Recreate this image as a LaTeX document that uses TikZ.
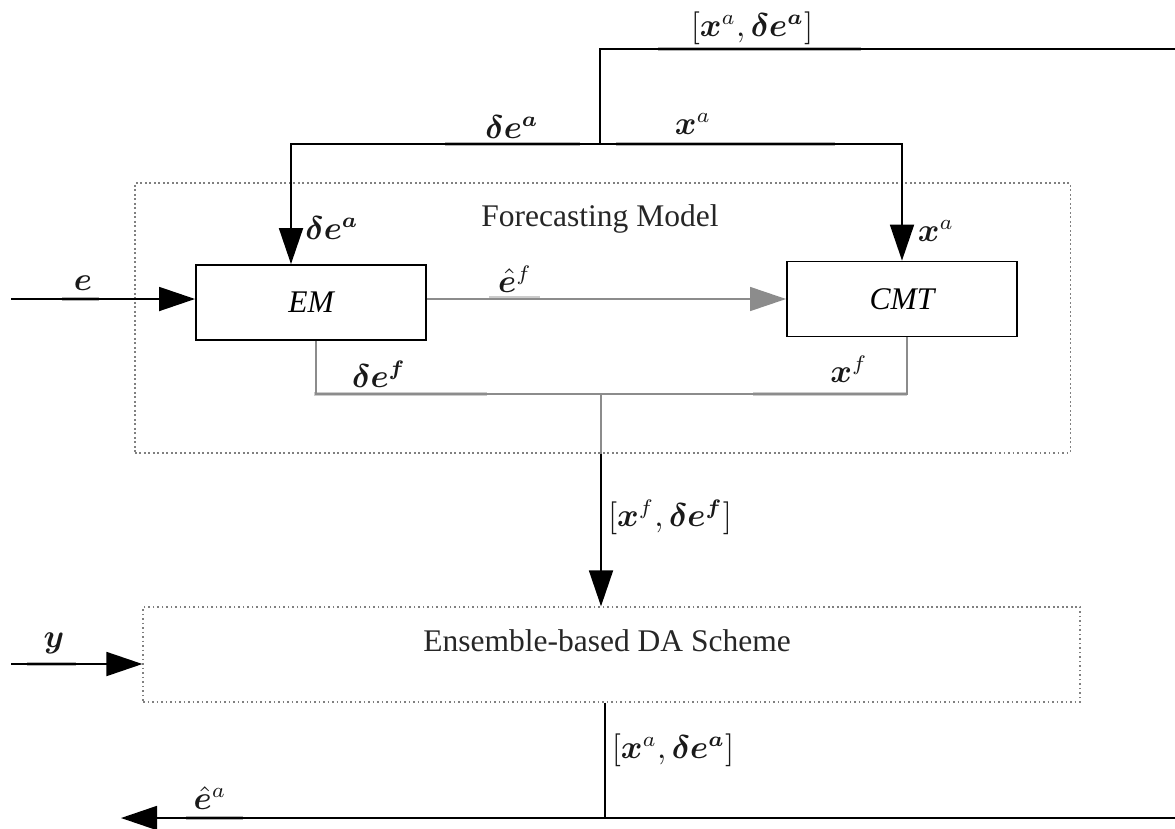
\documentclass[tikz,border=0pt]{standalone}
\usepackage{fontspec}
\setmainfont{Liberation Serif}
\usepackage{bm}
\usetikzlibrary{arrows.meta,calc}
\begin{document}
\begin{tikzpicture}[x=0.3333pt,y=-0.3333pt,
  font=\fontsize{10.5}{12.6}\selectfont,
  blk/.style={line width=0.6pt, draw=black},
  gry/.style={line width=0.5pt, draw=black!45},
  tip/.style={-{Triangle[length=12pt,width=8pt]}},
  block/.style={draw, line width=0.6pt, minimum width=76.7pt, minimum height=25pt,
    inner sep=0pt, font=\fontsize{10.5}{12.6}\selectfont\itshape},
  region/.style={draw=black!50, line width=0.4pt, dash pattern=on 0.6pt off 0.9pt, inner sep=0pt},
  lab/.style={inner sep=0pt, text=black!90},
  strip/.style={line width=1.3pt, draw=black!30}]

\useasboundingbox (0,0) rectangle (1175,828);

% enclosing regions
\node[region, minimum width=311.7pt, minimum height=90pt] (fm) at (602.5,318) {};
\node[text=black!85] (fmlabel) at (600,219) {Forecasting Model};
\node[region, minimum width=312.3pt, minimum height=31.7pt] (da) at (611.5,654.5) {};
\node[text=black!85] (dalabel) at (607,641) {Ensemble-based DA Scheme};

% model blocks
\node[block] (em) at (311,302.5) {EM};
\node[block] (cmt) at (902,299) {CMT};

% route points
\coordinate (ein) at (11,299);
\coordinate (yin) at (11,664);
\coordinate (split) at (600,144);
\coordinate (topjoin) at (600,49);
\coordinate (rtop) at (1185,49);
\coordinate (rbot) at (1185,818);
\coordinate (dajoin) at (605,818);
\coordinate (eaout) at (121,818);
\coordinate (emleft) at (291,144);
\coordinate (efout) at (316,394);
\coordinate (xfout) at (907,394);
\coordinate (collect) at (601,394);

% soft bands along the wires under the labels
\draw[strip] (62,299) -- (99,299);
\draw[strip, draw=black!20] (489,298) -- (540,298);
\draw[strip] (445,144) -- (580,144);
\draw[strip] (616,144) -- (835,144);
\draw[strip] (658,49) -- (861,49);
\draw[strip] (27,664) -- (76,664);
\draw[strip] (186,818) -- (243,818);
\draw[strip, draw=black!20] (314,394) -- (487,394);
\draw[strip, draw=black!20] (753,394) -- (907,394);

% connectors
\draw[blk, tip] (ein) -- (em.west |- ein);
\draw[gry, tip] (em.east |- cmt.west) -- (cmt.west);
\draw[blk] (dajoin |- da.south) -- (dajoin) -- (rbot) -- (rtop) -- (topjoin) -- (split);
\draw[blk, tip] (dajoin) -- (eaout);
\draw[blk, tip] (split) -- (emleft) -- (emleft |- em.north);
\draw[blk, tip] (split) -| (cmt.north);
\draw[gry] (efout |- em.south) -- (efout) -- (xfout) -- (xfout |- cmt.south);
\draw[gry] (collect) -- (collect |- fm.south);
\draw[blk, tip] (collect |- fm.south) -- (collect |- da.north);
\draw[blk, tip] (yin) -- (da.west |- yin);

% signal labels
\node[lab] (l1) at (752,28) {$[\bm{x}^a,\bm{\delta e^a}]$};
\node[lab] (l2) at (512,127) {$\bm{\delta e^a}$};
\node[lab] (l3) at (693,124) {$\bm{x}^a$};
\node[lab] (l4) at (332,228) {$\bm{\delta e^a}$};
\node[lab] (l5) at (936,231) {$\bm{x}^a$};
\node[lab] (l6) at (83,283) {$\bm{e}$};
\node[lab] (l7) at (515,279) {$\hat{\bm{e}}^f$};
\node[lab] (l8) at (379,374) {$\bm{\delta e^f}$};
\node[lab] (l9) at (849,369) {$\bm{x}^f$};
\node[lab] (l10) at (670,517) {$[\bm{x}^f,\bm{\delta e^f}]$};
\node[lab] (l11) at (54,643) {$\bm{y}$};
\node[lab] (l12) at (210,798) {$\hat{\bm{e}}^a$};
\node[lab] (l13) at (673,750) {$[\bm{x}^a,\bm{\delta e^a}]$};
\end{tikzpicture}
\end{document}
